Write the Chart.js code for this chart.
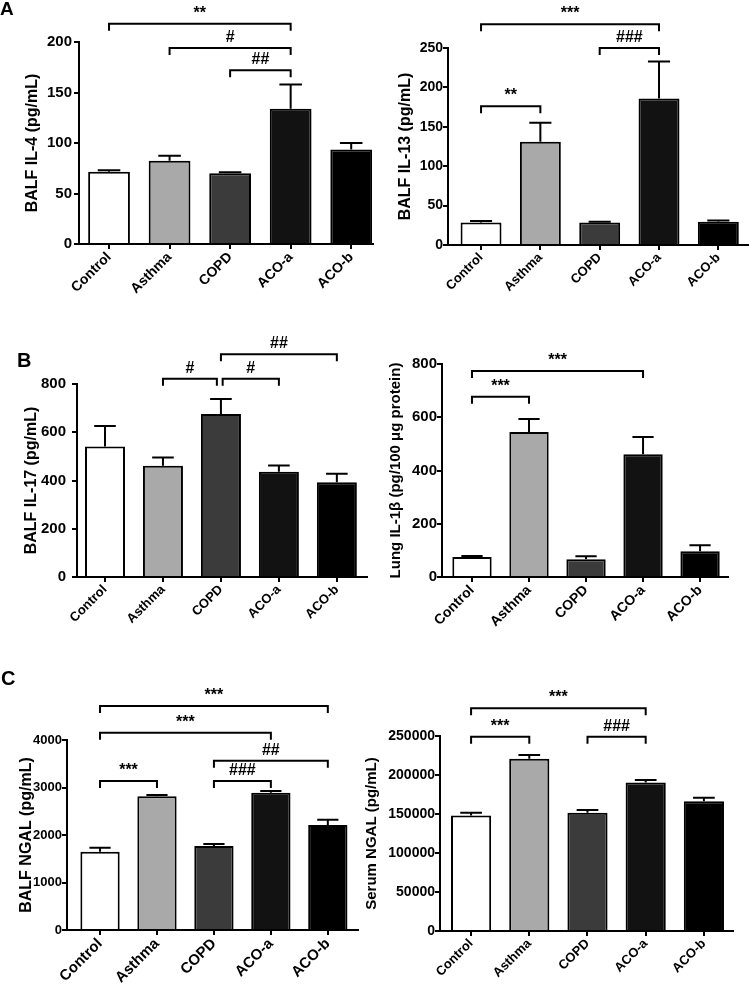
<!DOCTYPE html>
<html>
<head>
<meta charset="utf-8">
<script src="https://cdn.jsdelivr.net/npm/chart.js@4.4.1/dist/chart.umd.min.js"></script>
<style>
body { margin: 0; background: #fff; }
#fig { position: relative; width: 749px; height: 992px; overflow: hidden; font-family: 'Liberation Sans', Arial, sans-serif; }
#fig canvas { position: absolute; }
.tag { position: absolute; font-weight: bold; line-height: 1; }
</style>
</head>
<body>
<div id="fig">
  <canvas id="il4"></canvas>
  <canvas id="il13"></canvas>
  <canvas id="il17"></canvas>
  <canvas id="il1b"></canvas>
  <canvas id="ngalBalf"></canvas>
  <canvas id="ngalSerum"></canvas>
  <div class="tag" style="left:0px;top:-1px;font-size:19px">A</div>
  <div class="tag" style="left:17px;top:350px;font-size:20px">B</div>
  <div class="tag" style="left:1px;top:668px;font-size:20px">C</div>
</div>
<script>
var groups = ['Control', 'Asthma', 'COPD', 'ACO-a', 'ACO-b'];
var barColors = ['#ffffff', '#a9a9a9', '#3b3b3b', '#121212', '#000000'];

// mean and top of the error bar (mean + SEM)
var il4 = [71.5, 82.5, 70, 134, 93.5];
var il4Err = [73, 87.5, 71, 158, 100];
var il13 = [28.5, 131, 28.5, 186, 29.5];
var il13Err = [30.5, 155, 29.5, 233, 31];
var il17 = [541, 461, 676, 436, 393];
var il17Err = [626, 495, 738, 462, 428];
var il1b = [75, 545, 67, 461, 97];
var il1bErr = [79, 593, 78, 526, 119];
var ngalBalf = [1650, 2814, 1768, 2891, 2210];
var ngalBalfErr = [1733, 2842, 1810, 2926, 2323];
var ngalSerum = [148100, 220900, 151500, 190500, 166500];
var ngalSerumErr = [151500, 225600, 155000, 193500, 170800];

// significance brackets: [from group, to group, level on the y scale, label]
var il4Sig = [[1, 4, 218, '**'], [2, 4, 194, '#'], [3, 4, 172, '##']];
var il13Sig = [[1, 4, 280, '***'], [3, 4, 250, '###'], [1, 2, 176, '**']];
var il17Sig = [[3, 5, 923, '##'], [2, 2.93, 822, '#'], [3.03, 4, 822, '#']];
var il1bSig = [[1, 4, 774, '***'], [1, 2, 677, '***']];
var ngalBalfSig = [[1, 5, 4716, '***'], [1, 4, 4154, '***'], [3, 5, 3565, '##'], [3, 4, 3137, '###'], [1, 2, 3137, '***']];
var ngalSerumSig = [[1, 4, 285500, '***'], [1, 2, 249100, '***'], [3, 4, 249100, '###']];

Chart.defaults.font.family = "'Liberation Sans', Arial, sans-serif";
Chart.defaults.font.weight = 'bold';
Chart.defaults.color = '#000';

function makePanel(id, vals, errs, marks, yMax, yStep, yTitle, b) {
    var cv = document.getElementById(id);
    cv.width = b.w;
    cv.height = b.h;
    cv.style.left = b.left + 'px';
    cv.style.top = b.top + 'px';

    var axisLine = { display: true, color: '#000', width: 2 };
    var tickMarks = { display: true, drawOnChartArea: false, drawTicks: true, tickLength: 5, color: '#000', lineWidth: 2, offset: false };

    // error bars and significance brackets, placed through the chart's scales
    var extras = {
        id: 'extras',
        afterDatasetsDraw: function (chart) {
            var ctx = chart.ctx, x = chart.scales.x, y = chart.scales.y;
            var meta = chart.getDatasetMeta(0);
            ctx.save();
            ctx.strokeStyle = '#000';
            ctx.lineWidth = 2;
            errs.forEach(function (e, i) {
                var cx = x.getPixelForValue(i + 1);
                var half = meta.data[i].width * 0.27;
                var top = y.getPixelForValue(vals[i]);
                var ey = y.getPixelForValue(e);
                ctx.beginPath();
                ctx.moveTo(cx, top);
                ctx.lineTo(cx, ey);
                ctx.moveTo(cx - half, ey);
                ctx.lineTo(cx + half, ey);
                ctx.stroke();
            });
            ctx.font = 'bold 16px "Liberation Sans", Arial, sans-serif';
            ctx.fillStyle = '#000';
            ctx.textAlign = 'center';
            ctx.textBaseline = 'alphabetic';
            marks.forEach(function (m) {
                var x1 = x.getPixelForValue(m[0]);
                var x2 = x.getPixelForValue(m[1]);
                var by = y.getPixelForValue(m[2]);
                ctx.beginPath();
                ctx.moveTo(x1, by + 7);
                ctx.lineTo(x1, by);
                ctx.lineTo(x2, by);
                ctx.lineTo(x2, by + 7);
                ctx.stroke();
                ctx.fillText(m[3], (x1 + x2) / 2, by - 6);
            });
            ctx.restore();
        }
    };

    return new Chart(cv.getContext('2d'), {
        type: 'bar',
        data: {
            datasets: [{
                data: vals.map(function (v, i) { return { x: i + 1, y: v }; }),
                backgroundColor: barColors,
                borderColor: '#000',
                borderWidth: 2,
                categoryPercentage: 1,
                barPercentage: 0.69
            }]
        },
        options: {
            responsive: false,
            animation: false,
            layout: { padding: { top: b.yTop - b.top, right: b.left + b.w - b.axisEnd, left: 0, bottom: 0 } },
            plugins: { legend: { display: false }, tooltip: { enabled: false } },
            scales: {
                x: {
                    type: 'linear',
                    min: b.xMin,
                    max: b.xMax,
                    offset: false,
                    border: axisLine,
                    grid: tickMarks,
                    afterBuildTicks: function (s) {
                        s.ticks = groups.map(function (g, i) { return { value: i + 1 }; });
                    },
                    afterFit: function (s) { s.height = b.top + b.h - b.yBottom; },
                    ticks: {
                        autoSkip: false,
                        minRotation: 45,
                        maxRotation: 45,
                        padding: 0,
                        color: '#000',
                        font: { size: b.labelSize, weight: 'bold' },
                        callback: function (v) { return groups[v - 1]; }
                    }
                },
                y: {
                    min: 0,
                    max: yMax,
                    border: axisLine,
                    grid: tickMarks,
                    afterFit: function (s) { s.width = b.axisX - b.left; },
                    ticks: {
                        stepSize: yStep,
                        padding: b.tickPad,
                        color: '#000',
                        font: { size: b.tickSize, weight: 'bold' },
                        callback: function (v) { return String(v); }
                    },
                    title: {
                        display: true,
                        text: yTitle,
                        color: '#000',
                        font: { size: b.titleSize, weight: 'bold' },
                        padding: { top: b.titleX - b.left - b.titleSize * 0.6, bottom: 0 }
                    }
                }
            }
        },
        plugins: [extras]
    });
}

makePanel('il4', il4, il4Err, il4Sig, 200, 50, 'BALF IL-4 (pg/mL)',
    { left: 0, top: 0, w: 375, h: 330, axisX: 79, yTop: 42, yBottom: 244, axisEnd: 373,
      xMin: 0.504, xMax: 5.36, titleX: 33, titleSize: 16, tickSize: 15, tickPad: 2, labelSize: 14 });
makePanel('il13', il13, il13Err, il13Sig, 250, 50, 'BALF IL-13 (pg/mL)',
    { left: 375, top: 0, w: 374, h: 330, axisX: 448, yTop: 48, yBottom: 245, axisEnd: 748,
      xMin: 0.443, xMax: 5.5, titleX: 406, titleSize: 16, tickSize: 14, tickPad: 0, labelSize: 13 });
makePanel('il17', il17, il17Err, il17Sig, 800, 200, 'BALF IL-17 (pg/mL)',
    { left: 0, top: 330, w: 375, h: 330, axisX: 77, yTop: 384, yBottom: 577, axisEnd: 367,
      xMin: 0.517, xMax: 5.52, titleX: 32, titleSize: 16, tickSize: 15, tickPad: 6, labelSize: 13 });
makePanel('il1b', il1b, il1bErr, il1bSig, 800, 200, 'Lung IL-1\u03b2 (pg/100 \u03bcg protein)',
    { left: 375, top: 330, w: 374, h: 330, axisX: 442, yTop: 364, yBottom: 577, axisEnd: 728,
      xMin: 0.474, xMax: 5.49, titleX: 396, titleSize: 15, tickSize: 15, tickPad: 0, labelSize: 14 });
makePanel('ngalBalf', ngalBalf, ngalBalfErr, ngalBalfSig, 4000, 1000, 'BALF NGAL (pg/mL)',
    { left: 0, top: 655, w: 375, h: 337, axisX: 67, yTop: 740, yBottom: 930, axisEnd: 358,
      xMin: 0.42, xMax: 5.53, titleX: 27, titleSize: 16, tickSize: 13, tickPad: 0, labelSize: 15 });
makePanel('ngalSerum', ngalSerum, ngalSerumErr, ngalSerumSig, 250000, 50000, 'Serum NGAL (pg/mL)',
    { left: 355, top: 655, w: 394, h: 337, axisX: 440, yTop: 736, yBottom: 931, axisEnd: 733,
      xMin: 0.466, xMax: 5.5, titleX: 372, titleSize: 15, tickSize: 14, tickPad: 0, labelSize: 13 });
</script>
</body>
</html>
